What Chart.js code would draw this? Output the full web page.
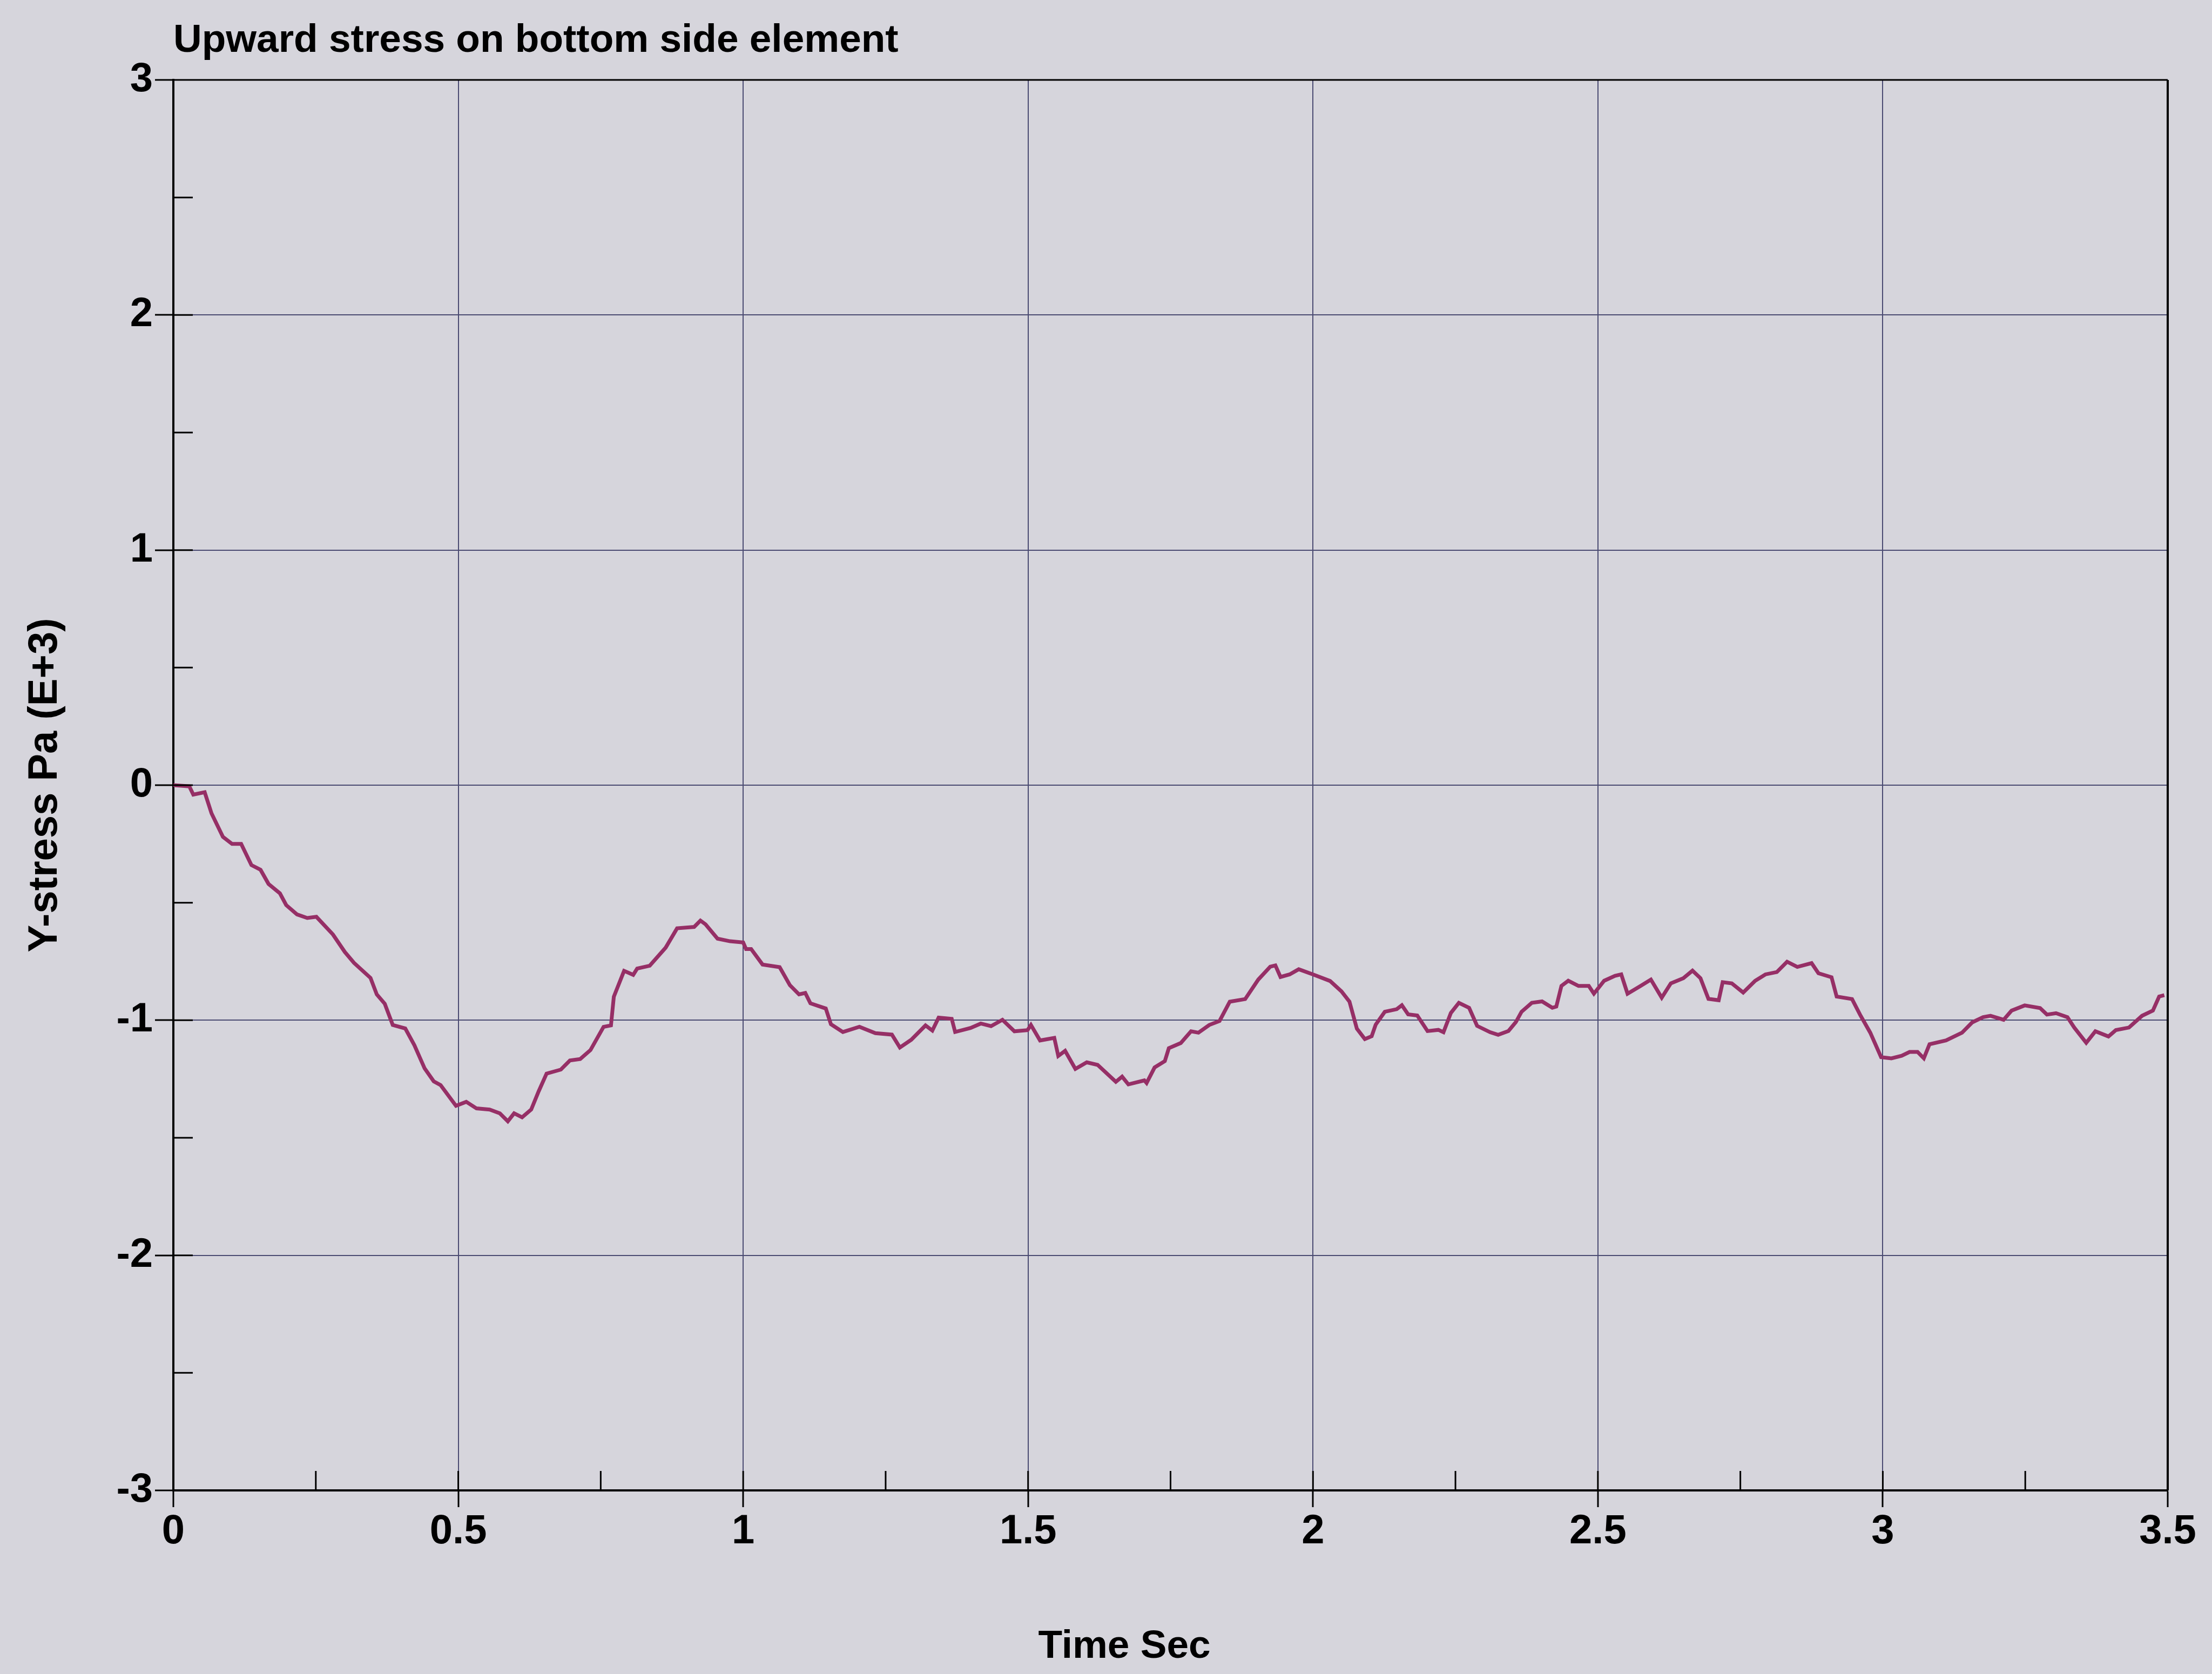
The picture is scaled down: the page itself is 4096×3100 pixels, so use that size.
<!DOCTYPE html>
<html>
<head>
<meta charset="utf-8">
<script src="https://cdn.jsdelivr.net/npm/chart.js@4.4.0/dist/chart.umd.min.js"></script>
<style>
  html, body { margin: 0; padding: 0; background: #d6d5dc; }
  #wrap { width: 4096px; height: 3100px; }
</style>
</head>
<body>
<div id="wrap"><canvas id="stressChart" width="4096" height="3100"></canvas></div>
<script>
// time in seconds
const times = [
  0, 0.028, 0.035, 0.055, 0.067, 0.087, 0.103, 0.119, 0.137, 0.153,
  0.167, 0.187, 0.198, 0.217, 0.235, 0.251, 0.280, 0.301, 0.317, 0.346,
  0.357, 0.371, 0.385, 0.407, 0.423, 0.441, 0.457, 0.469, 0.496, 0.514,
  0.532, 0.555, 0.573, 0.587, 0.598, 0.612, 0.628, 0.641, 0.655, 0.680,
  0.696, 0.714, 0.732, 0.755, 0.768, 0.773, 0.791, 0.807, 0.814, 0.836,
  0.864, 0.884, 0.914, 0.925, 0.934, 0.955, 0.977, 1.000, 1.005, 1.014,
  1.034, 1.064, 1.082, 1.098, 1.109, 1.118, 1.145, 1.154, 1.175, 1.204,
  1.232, 1.261, 1.275, 1.295, 1.320, 1.332, 1.343, 1.366, 1.372, 1.399,
  1.417, 1.435, 1.455, 1.476, 1.499, 1.505, 1.521, 1.546, 1.553, 1.565,
  1.583, 1.603, 1.622, 1.654, 1.665, 1.676, 1.704, 1.708, 1.722, 1.740,
  1.747, 1.768, 1.786, 1.799, 1.818, 1.836, 1.854, 1.881, 1.904, 1.925,
  1.934, 1.943, 1.959, 1.975, 2.000, 2.030, 2.050, 2.064, 2.077, 2.091,
  2.103, 2.110, 2.126, 2.147, 2.156, 2.167, 2.183, 2.201, 2.220, 2.229,
  2.242, 2.256, 2.274, 2.288, 2.311, 2.325, 2.343, 2.356, 2.366, 2.384,
  2.402, 2.420, 2.427, 2.436, 2.448, 2.466, 2.484, 2.493, 2.511, 2.530,
  2.541, 2.552, 2.575, 2.593, 2.612, 2.628, 2.650, 2.666, 2.680, 2.694,
  2.712, 2.719, 2.735, 2.755, 2.776, 2.794, 2.814, 2.832, 2.850, 2.875,
  2.887, 2.910, 2.919, 2.946, 2.960, 2.978, 2.997, 3.015, 3.033, 3.047,
  3.061, 3.072, 3.082, 3.111, 3.139, 3.157, 3.176, 3.189, 3.212, 3.226,
  3.249, 3.276, 3.288, 3.304, 3.324, 3.336, 3.357, 3.373, 3.396, 3.409,
  3.432, 3.455, 3.474, 3.485, 3.494
];

// Y-stress, Pa (E+3)
const stress = [
  0, -0.005, -0.04, -0.03, -0.12, -0.22, -0.25, -0.25, -0.34, -0.36,
  -0.42, -0.46, -0.51, -0.55, -0.565, -0.56, -0.635, -0.71, -0.756, -0.82,
  -0.89, -0.93, -1.02, -1.035, -1.106, -1.205, -1.26, -1.276, -1.364, -1.347,
  -1.375, -1.38, -1.396, -1.43, -1.396, -1.413, -1.38, -1.303, -1.227, -1.21,
  -1.171, -1.165, -1.127, -1.028, -1.022, -0.90, -0.79, -0.807, -0.78, -0.768,
  -0.691, -0.609, -0.603, -0.576, -0.592, -0.653, -0.664, -0.669, -0.697, -0.697,
  -0.763, -0.774, -0.851, -0.890, -0.884, -0.928, -0.950, -1.017, -1.050, -1.028,
  -1.055, -1.061, -1.116, -1.083, -1.022, -1.044, -0.989, -0.994, -1.050, -1.033,
  -1.014, -1.025, -0.998, -1.047, -1.042, -1.020, -1.086, -1.075, -1.152, -1.130,
  -1.207, -1.179, -1.190, -1.262, -1.240, -1.273, -1.256, -1.267, -1.201, -1.174,
  -1.119, -1.097, -1.047, -1.053, -1.020, -1.003, -0.921, -0.910, -0.827, -0.772,
  -0.767, -0.816, -0.805, -0.783, -0.805, -0.833, -0.877, -0.921, -1.036, -1.080,
  -1.068, -1.019, -0.964, -0.953, -0.936, -0.975, -0.980, -1.046, -1.041, -1.051,
  -0.969, -0.926, -0.947, -1.024, -1.051, -1.062, -1.046, -1.008, -0.964, -0.926,
  -0.920, -0.947, -0.942, -0.854, -0.832, -0.854, -0.854, -0.887, -0.832, -0.811,
  -0.805, -0.887, -0.854, -0.827, -0.904, -0.843, -0.821, -0.789, -0.821, -0.909,
  -0.915, -0.838, -0.843, -0.882, -0.832, -0.805, -0.795, -0.751, -0.773, -0.757,
  -0.800, -0.817, -0.899, -0.910, -0.976, -1.053, -1.157, -1.162, -1.151, -1.135,
  -1.135, -1.162, -1.102, -1.086, -1.053, -1.009, -0.987, -0.981, -0.998, -0.959,
  -0.937, -0.948, -0.976, -0.970, -0.987, -1.031, -1.096, -1.047, -1.069, -1.042,
  -1.031, -0.981, -0.959, -0.899, -0.893
];

const xMajor = [0, 0.5, 1, 1.5, 2, 2.5, 3, 3.5];
const xMinor = [0.25, 0.75, 1.25, 1.75, 2.25, 2.75, 3.25];
const yMajor = [-3, -2, -1, 0, 1, 2, 3];
const yMinor = [-2.5, -1.5, -0.5, 0.5, 1.5, 2.5];

const chartTitle = 'Upward stress on bottom side element';
const xTitle = 'Time Sec';
const yTitle = 'Y-stress Pa (E+3)';

const FONT = '"Liberation Sans", Arial, sans-serif';
const gridColor = '#4b4b72';

// background, frame, inner ticks and titles
const decorations = {
    id: 'decorations',
    beforeDraw(chart) {
        const ctx = chart.ctx;
        ctx.save();
        ctx.fillStyle = '#d6d5dc';
        ctx.fillRect(0, 0, chart.width, chart.height);
        ctx.restore();
    },
    afterDraw(chart) {
        const ctx = chart.ctx;
        const a = chart.chartArea;
        const xs = chart.scales.x;
        const ys = chart.scales.y;
        ctx.save();
        ctx.strokeStyle = '#000';

        // top and right frame
        ctx.lineWidth = 3;
        ctx.beginPath();
        ctx.moveTo(a.left, a.top);
        ctx.lineTo(a.right, a.top);
        ctx.stroke();
        ctx.lineWidth = 4;
        ctx.beginPath();
        ctx.moveTo(a.right, a.top);
        ctx.lineTo(a.right, a.bottom);
        ctx.stroke();

        // inner ticks
        const len = 36;
        ctx.lineWidth = 3;
        xMinor.concat(xMajor.slice(1, -1)).forEach(v => {
            const px = xs.getPixelForValue(v);
            ctx.beginPath();
            ctx.moveTo(px, a.bottom);
            ctx.lineTo(px, a.bottom - len);
            ctx.stroke();
        });
        yMinor.concat(yMajor.slice(1, -1)).forEach(v => {
            const py = ys.getPixelForValue(v);
            ctx.beginPath();
            ctx.moveTo(a.left, py);
            ctx.lineTo(a.left + len, py);
            ctx.stroke();
        });

        // titles
        ctx.fillStyle = '#000';
        ctx.font = 'bold 73px ' + FONT;
        ctx.textAlign = 'left';
        ctx.textBaseline = 'alphabetic';
        ctx.fillText(chartTitle, a.left, 96);

        ctx.textAlign = 'center';
        ctx.fillText(xTitle, 2082, 3070);

        ctx.translate(84, (a.top + a.bottom) / 2);
        ctx.rotate(-Math.PI / 2);
        ctx.font = 'bold 76px ' + FONT;
        ctx.textBaseline = 'middle';
        ctx.fillText(yTitle, 0, 0);
        ctx.restore();
    }
};

const points = times.map((t, i) => ({ x: t, y: stress[i] }));
const plainLabel = v => String(v);

new Chart(document.getElementById('stressChart'), {
    type: 'line',
    data: {
        datasets: [{
            label: yTitle,
            data: points,
            borderColor: '#962f66',
            borderWidth: 7,
            pointRadius: 0,
            tension: 0,
            fill: false
        }]
    },
    options: {
        responsive: false,
        animation: false,
        events: [],
        layout: { padding: { top: 148, right: 82, left: 0, bottom: 0 } },
        plugins: {
            legend: { display: false },
            tooltip: { enabled: false },
            title: { display: false }
        },
        scales: {
            x: {
                type: 'linear',
                min: 0,
                max: 3.5,
                afterBuildTicks: scale => { scale.ticks = xMajor.map(v => ({ value: v })); },
                afterFit: scale => { scale.height = 340; },
                ticks: {
                    autoSkip: false,
                    maxRotation: 0,
                    padding: 0,
                    color: '#000',
                    callback: plainLabel,
                    font: { family: FONT, size: 76, weight: 'bold' }
                },
                grid: {
                    color: gridColor,
                    lineWidth: 2,
                    drawTicks: true,
                    tickLength: 31,
                    tickColor: '#000',
                    tickWidth: 3
                },
                border: { color: '#000', width: 4 }
            },
            y: {
                type: 'linear',
                min: -3,
                max: 3,
                afterBuildTicks: scale => { scale.ticks = yMajor.map(v => ({ value: v })); },
                afterFit: scale => { scale.width = 321; },
                ticks: {
                    autoSkip: false,
                    padding: 4,
                    color: '#000',
                    callback: plainLabel,
                    font: { family: FONT, size: 76, weight: 'bold' }
                },
                grid: {
                    color: gridColor,
                    lineWidth: 2,
                    drawTicks: true,
                    tickLength: 34,
                    tickColor: '#000',
                    tickWidth: 3
                },
                border: { color: '#000', width: 4 }
            }
        }
    },
    plugins: [decorations]
});
</script>
</body>
</html>
